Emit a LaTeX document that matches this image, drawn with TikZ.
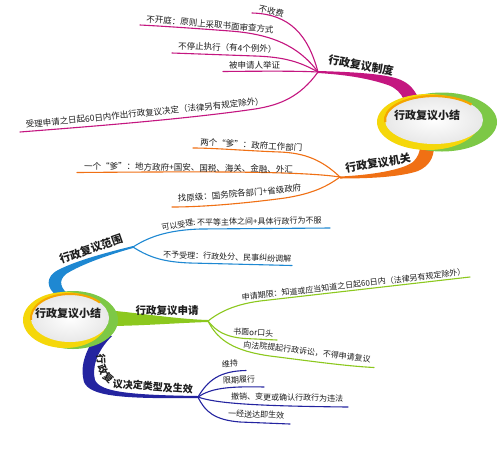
\documentclass[tikz,border=0pt]{standalone}
\usepackage{fontspec}
\setmainfont{Noto Sans CJK SC}
\definecolor{cmag}{RGB}{196,22,128}
\definecolor{cora}{RGB}{240,112,20}
\definecolor{cblue}{RGB}{30,136,210}
\definecolor{cgrn}{RGB}{140,200,30}
\definecolor{cnavy}{RGB}{36,36,160}
\definecolor{ringyel}{RGB}{245,215,10}
\definecolor{ringora}{RGB}{245,165,0}
\definecolor{ringgrn}{RGB}{125,200,70}
\definecolor{txt}{RGB}{30,30,30}
\begin{document}
\begin{tikzpicture}[x=1pt,y=-1pt,
  leafline/.style={line width=1.1pt, line cap=round},
  leaftext/.style={inner sep=0pt, anchor=base west, text=txt, font=\fontsize{8.5}{10}\selectfont},
  smalltext/.style={leaftext, font=\fontsize{8}{10}\selectfont},
  mainlabel/.style={inner sep=0pt, text=txt, font=\bfseries\fontsize{11}{13}\selectfont},
  curvechar/.style={inner sep=0pt, text=txt, font=\bfseries\fontsize{10}{12}\selectfont},
]
\fill[white] (0,0) rectangle (500,451);
\useasboundingbox (0,0) rectangle (500,451);

% junctions
\coordinate (J1) at (318,72);
\coordinate (J2) at (340,177);
\coordinate (J3) at (133,247);
\coordinate (J4) at (208,321);
\coordinate (J5) at (198,397);

% leaf ends
\coordinate (m1) at (252,13);
\coordinate (m2) at (140,25);
\coordinate (m3) at (172,53);
\coordinate (m4) at (223,71.5);
\coordinate (m5) at (20,132);
\coordinate (o1) at (193,148);
\coordinate (o2) at (77,172.5);
\coordinate (o3) at (172,207);
\coordinate (b1) at (330,228);
\coordinate (b2) at (292,265.5);
\coordinate (g1) at (470,277);
\coordinate (g2) at (277,340);
\coordinate (g3) at (374,367.5);
\coordinate (n1) at (246,370.5);
\coordinate (n2) at (264,387);
\coordinate (n3) at (348,407);
\coordinate (n4) at (290,424);

% ---- thick main branches ----
\fill[cmag] (318,71) .. controls (355,72) and (390,74) .. (403,81) .. controls (411,85) and (416,92) .. (419,100) -- (404,100) .. controls (401,93) and (396,88) .. (388,85) .. controls (370,79) and (350,75) .. (318,73) -- cycle;
\fill[cora] (340,176.5) .. controls (372,175) and (402,170) .. (413,162) .. controls (418,157) and (420,152) .. (420,146) -- (434,146) .. controls (434,158) and (429,166) .. (418,171) .. controls (400,177) and (370,178.5) .. (340,178.5) -- cycle;
\fill[cblue] (133,246) .. controls (105,253) and (78,260) .. (58,270) .. controls (45,277) and (46,288) .. (58,297) -- (71,297) .. controls (60,288) and (58,281) .. (66,274) .. controls (82,264) and (108,255) .. (133,248) -- cycle;
\fill[cgrn] (105,310) .. controls (140,313) and (175,319) .. (208,320) -- (208,322) .. controls (175,323) and (140,326) .. (105,326) -- cycle;
\fill[cnavy] (98,333) .. controls (84,352) and (80,368) .. (84,382) .. controls (90,396) and (120,399) .. (198,398) -- (198,396) .. controls (130,395) and (100,392) .. (95,380) .. controls (92,368) and (96,352) .. (112,336) -- cycle;

% ---- leaf connectors ----
\draw[leafline, cmag] (J1) .. controls (308,35) and (290,14) .. (m1);
\draw[leafline, cmag] (J1) .. controls (298,45) and (270,34) .. (230,31) .. controls (190,28) and (160,26) .. (m2);
\draw[leafline, cmag] (J1) .. controls (300,62) and (285,57) .. (255,56) -- (m3);
\draw[leafline, cmag] (J1) .. controls (300,71) and (270,71) .. (m4);
\draw[leafline, cmag] (J1) .. controls (300,97) and (280,105) .. (255,109) .. controls (180,120) and (70,128) .. (m5);

\draw[leafline, cora] (J2) .. controls (322,160) and (305,153) .. (280,152) .. controls (250,151) and (215,148) .. (o1);
\draw[leafline, cora] (J2) .. controls (300,171) and (200,171.5) .. (o2);
\draw[leafline, cora] (J2) .. controls (325,188) and (310,194) .. (285,198) .. controls (240,204) and (200,207) .. (o3);

\draw[leafline, cblue] (J3) .. controls (150,236) and (170,230) .. (200,229) -- (b1);
\draw[leafline, cblue] (J3) .. controls (150,258) and (165,262) .. (190,263) -- (b2);

\draw[leafline, cgrn] (J4) .. controls (222,310) and (238,304) .. (260,301) .. controls (330,293) and (400,285) .. (g1);
\draw[leafline, cgrn] (J4) .. controls (216,331) and (225,337) .. (245,338.5) -- (g2);
\draw[leafline, cgrn] (J4) .. controls (218,341) and (235,351) .. (270,356) .. controls (310,361) and (345,366) .. (g3);

\draw[leafline, cnavy] (J5) .. controls (208,380) and (220,371) .. (n1);
\draw[leafline, cnavy] (J5) .. controls (210,389) and (225,386) .. (n2);
\draw[leafline, cnavy] (J5) .. controls (215,403) and (250,406) .. (n3);
\draw[leafline, cnavy] (J5) .. controls (205,412) and (215,420) .. (240,422) -- (n4);

% ---- leaf texts ----
\node[leaftext, rotate=-12] (t-m1) at (258,11.5) {不收费};
\node[leaftext, rotate=-5] (t-m2) at (146,22) {不开庭：原则上采取书面审查方式};
\node[leaftext, rotate=-2] (t-m3) at (178,49) {不停止执行（有4个例外）};
\node[leaftext] (t-m4) at (229,68) {被申请人举证};
\node[leaftext, rotate=5.7] (t-m5) at (26,128) {受理申请之日起60日内作出行政复议决定（法律另有规定除外）};

\node[leaftext, rotate=-3.5] (t-o1) at (200,145) {两个“爹”：政府工作部门};
\node[leaftext, rotate=-1] (t-o2) at (84,169) {一个“爹”：地方政府+国安、国税、海关、金融、外汇};
\node[leaftext, rotate=5] (t-o3) at (178,202) {找原级：国务院各部门+省级政府};

\node[smalltext, rotate=10] (t-b1a) at (162,231) {可以受理:};
\node[smalltext, rotate=1] (t-b1b) at (197,225.5) {不平等主体之间+具体行政行为不服};
\node[smalltext, rotate=-2] (t-b2) at (163,257.5) {不予受理：行政处分、民事纠纷调解};

\node[smalltext, rotate=6.5] (t-g1) at (242,300.5) {申请期限：知道或应当知道之日起60日内（法律另有规定除外）};
\node[smalltext, rotate=-3] (t-g2) at (233,334.5) {书面or口头};
\node[smalltext, rotate=-7] (t-g3) at (243,347) {向法院提起行政诉讼，不得申请复议};

\node[smalltext, rotate=4] (t-n1) at (222,367.5) {维持};
\node[smalltext, rotate=2] (t-n2) at (223,383.5) {限期履行};
\node[smalltext, rotate=-1] (t-n3) at (231,399.5) {撤销、变更或确认行政行为违法};
\node[smalltext, rotate=-2] (t-n4) at (228,416.5) {一经送达即生效};

% ---- main labels ----
\node[mainlabel, rotate=-10] (l-zhidu) at (361,65.5) {行政复议制度};
\node[mainlabel, rotate=10] (l-jiguan) at (378,163) {行政复议机关};
\node[mainlabel, rotate=19] (l-fanwei) at (91,249) {行政复议范围};
\node[mainlabel, font=\bfseries\fontsize{10.5}{12}\selectfont] (l-shenqing) at (167,310.5) {行政复议申请};
% curved label along the navy branch
\node[curvechar, rotate=-85] (l-jd1) at (101,359.5) {行};
\node[curvechar, rotate=-68] (l-jd2) at (102.8,369.5) {政};
\node[curvechar, rotate=-40] (l-jd3) at (108.3,378) {复};
\node[curvechar, rotate=-4, anchor=base west] (l-jd4) at (112.5,387.5) {议决定类型及生效};

% ---- summary circles ----
\fill[ringgrn] (442,122) ellipse [x radius=55, y radius=29.5];
\fill[ringyel] (428,122) ellipse [x radius=51, y radius=28];
\shade[inner color=white, outer color=black!9] (434,120) ellipse [x radius=49, y radius=24];
\draw[ringora, line width=2.2pt] (434,120) ++(175:49 and 24) arc[start angle=175, end angle=320, x radius=49, y radius=24];
\node[mainlabel] (c1) at (427,115) {行政复议小结};

\fill[ringgrn] (73,320) ellipse [x radius=45, y radius=29];
\fill[ringyel] (65,320) ellipse [x radius=42, y radius=28];
\shade[inner color=white, outer color=black!9] (70,318) ellipse [x radius=39, y radius=24];
\draw[ringora, line width=2pt] (70,318) ++(175:39 and 24) arc[start angle=175, end angle=320, x radius=39, y radius=24];
\node[mainlabel] (c2) at (68,313) {行政复议小结};
\end{tikzpicture}
\end{document}
